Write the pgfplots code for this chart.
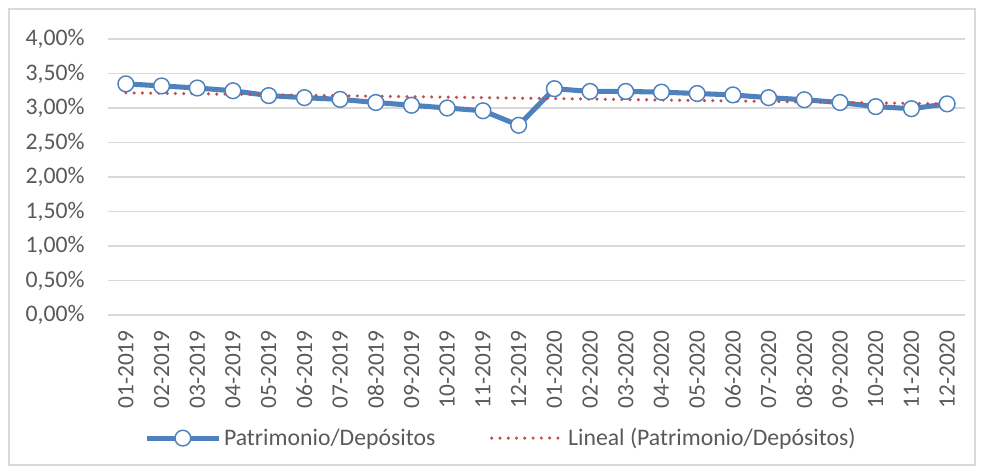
\documentclass[border=0pt]{standalone}
\usepackage{fontspec}
\setmainfont{Carlito}
\usepackage{pgfplots}
\pgfplotsset{compat=1.18}
\definecolor{serieblue}{RGB}{79,129,189}
\definecolor{trendred}{RGB}{192,80,77}
\definecolor{gridgray}{RGB}{217,217,217}
\definecolor{textgray}{RGB}{89,89,89}

\begin{document}
\begin{tikzpicture}[x=0.75pt,y=0.75pt]
\begin{axis}[
    scale only axis,
    width=642.75pt, height=207pt,
    xmin=-0.5, xmax=23.5,
    ymin=0, ymax=4,
    ytick={0,0.5,...,4},
    xtick={0,...,23},
    xticklabels={01-2019,02-2019,03-2019,04-2019,05-2019,06-2019,07-2019,08-2019,09-2019,10-2019,11-2019,12-2019,
                 01-2020,02-2020,03-2020,04-2020,05-2020,06-2020,07-2020,08-2020,09-2020,10-2020,11-2020,12-2020},
    x tick label style={rotate=90, anchor=east, font=\fontsize{17.5}{20}\selectfont},
    yticklabel={\pgfmathprintnumber[fixed,fixed zerofill,precision=2,use comma,assume math mode=true]{\tick}\%},
    y tick label style={font=\fontsize{17.8}{20}\selectfont},
    ticklabel style={text=textgray},
    xtick style={draw=none}, ytick style={draw=none},
    ymajorgrids, grid style={gridgray, line width=1pt},
    axis line style={draw=none},
    major tick length=0pt,
    xticklabel shift=8pt,
    yticklabel shift=14pt,
    clip=false,
    legend columns=2,
    legend style={at={(0.459,-0.446)}, anchor=center, draw=none, fill=none,
        font=\fontsize{17.8}{20}\selectfont, text=textgray,
        /tikz/every even column/.append style={column sep=39pt}},
    legend cell align=left,
    legend image code/.code={\draw[mark repeat=2,mark phase=2,#1] plot coordinates {(0pt,0pt)(27pt,0pt)(54pt,0pt)};},
]
\addplot[serieblue, line width=3.8pt, mark=*, mark size=5.9pt,
    mark options={fill=white, draw=serieblue, line width=1.1pt}]
    coordinates {
    (0,3.35)(1,3.32)(2,3.29)(3,3.25)(4,3.18)(5,3.15)(6,3.125)(7,3.08)(8,3.04)(9,3.00)(10,2.96)(11,2.75)
    (12,3.28)(13,3.24)(14,3.24)(15,3.23)(16,3.21)(17,3.19)(18,3.15)(19,3.12)(20,3.08)(21,3.02)(22,2.99)(23,3.06)};
\addlegendentry{Patrimonio/Depósitos}
\addplot[trendred, line width=2.6pt, line cap=round, dash pattern=on 0pt off 6.2pt]
    coordinates {(0,3.22)(23,3.06)};
\addlegendentry{Lineal (Patrimonio/Depósitos)}
\coordinate (O) at (rel axis cs:0,0);
\end{axis}
\draw[gridgray, line width=1pt] ([shift={(-99,-150)}]O) rectangle ([shift={(867,306)}]O);
\useasboundingbox ([shift={(-108,-157)}]O) rectangle ([shift={(874,315)}]O);
\end{tikzpicture}
\end{document}
